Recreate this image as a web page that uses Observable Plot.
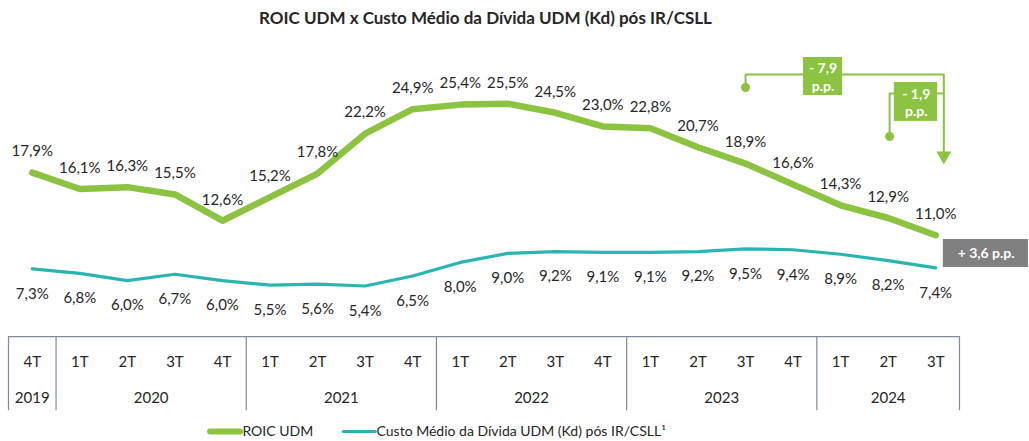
<!DOCTYPE html>
<html><head><meta charset="utf-8">
<script src="https://cdn.jsdelivr.net/npm/d3@7"></script>
<script src="https://cdn.jsdelivr.net/npm/@observablehq/plot@0.6"></script>
<style>body{margin:0;background:#fff}svg{font-family:Lato,"Open Sans",sans-serif}</style>
</head><body><div id="chart"></div>
<script>
const quarters = ["4T","1T","2T","3T","4T","1T","2T","3T","4T","1T","2T","3T","4T","1T","2T","3T","4T","1T","2T","3T"];
const yearLabels = ["2019","2020","2021","2022","2023","2024"];
const yearCenters = [0, 2.5, 6.5, 10.5, 14.5, 18];
const yearBounds = [-0.5, 0.5, 4.5, 8.5, 12.5, 16.5, 19.5];
const roic = [17.9,16.1,16.3,15.5,12.6,15.2,17.8,22.2,24.9,25.4,25.5,24.5,23.0,22.8,20.7,18.9,16.6,14.3,12.9,11.0];
const kd = [7.3,6.8,6.0,6.7,6.0,5.5,5.6,5.4,6.5,8.0,9.0,9.2,9.1,9.1,9.2,9.5,9.4,8.9,8.2,7.4];
const titleText = "ROIC UDM x Custo Médio da Dívida UDM (Kd) pós IR/CSLL";
const seriesNames = ["ROIC UDM", "Custo Médio da Dívida UDM (Kd) pós IR/CSLL¹"];
const deltaLabels = ["- 7,9\np.p.", "- 1,9\np.p.", "+ 3,6 p.p."];

const GREEN = "#8cc341", TEAL = "#2bb5b1", GRID = "#7d8a9a", TXT = "#262626";
const rows = quarters.map((q, i) => ({i, q, roic: roic[i], kd: kd[i]}));
const fmt = v => v.toFixed(1).replace(".", ",") + "%";

// table rows and extra text rows (in y data units)
const yTop = -0.17, yQ = -3.03, yYear = -7.0, yBot = -8.35, yLeg = -10.64, yTitle = 34.9;

const chart = Plot.plot({
  width: 1029, height: 441,
  marginLeft: 0, marginRight: 0, marginTop: 0, marginBottom: 0,
  x: {type: "linear", domain: [-0.5, 19.5], range: [8, 959], axis: null},
  y: {type: "linear", domain: [0, 30], range: [334.5, 62.4], axis: null},
  marks: [
    // title
    Plot.text([titleText], {x: 9.53, y: yTitle, text: d => d, fontSize: 17, fontWeight: "bold", fill: TXT}),
    // table
    Plot.ruleY([yTop], {x1: -0.5, x2: 19.5, stroke: GRID, strokeWidth: 1.2}),
    Plot.ruleX(yearBounds, {x: d => d, y1: yTop, y2: yBot, stroke: GRID, strokeWidth: 1.2}),
    Plot.text(rows, {x: "i", y: yQ, text: "q", fontSize: 15, fill: TXT}),
    Plot.text(yearLabels, {x: (d, j) => yearCenters[j], y: yYear, text: d => d, fontSize: 15, fill: TXT}),
    // lines
    Plot.line(rows, {x: "i", y: "kd", stroke: TEAL, strokeWidth: 3.2}),
    Plot.line(rows, {x: "i", y: "roic", stroke: GREEN, strokeWidth: 6.5}),
    Plot.text(rows, {x: "i", y: "roic", text: d => fmt(d.roic), dy: -21, fontSize: 15, fill: TXT}),
    Plot.text(rows, {x: "i", y: "kd", text: d => fmt(d.kd), dy: 25, fontSize: 15, fill: TXT}),
    // bracket -7,9
    Plot.line([{x: 15, y: 27.29}, {x: 15, y: 28.72}, {x: 19.17, y: 28.72}, {x: 19.17, y: 20.2}], {x: "x", y: "y", stroke: GREEN, strokeWidth: 2}),
    Plot.dot([{x: 15, y: 27.29}], {x: "x", y: "y", r: 4.5, fill: GREEN}),
    // bracket -1,9
    Plot.line([{x: 18.03, y: 21.89}, {x: 18.03, y: 26.63}, {x: 19.17, y: 26.63}], {x: "x", y: "y", stroke: GREEN, strokeWidth: 2}),
    Plot.dot([{x: 18.03, y: 21.89}], {x: "x", y: "y", r: 4.5, fill: GREEN}),
    Plot.dot([{x: 19.17, y: 19.75}], {x: "x", y: "y", symbol: "triangle", r: 5.5, rotate: 180, fill: GREEN}),
    // boxes
    Plot.rect([{x1: 16.22, x2: 17.04, y1: 26.4, y2: 30.6}], {x1: "x1", x2: "x2", y1: "y1", y2: "y2", fill: GREEN}),
    Plot.text([deltaLabels[0]], {x: 16.63, y: 28.5, text: d => d, fill: "white", fontWeight: "bold", fontSize: 14, lineHeight: 1.25}),
    Plot.rect([{x1: 18.13, x2: 19.04, y1: 23.55, y2: 27.84}], {x1: "x1", x2: "x2", y1: "y1", y2: "y2", fill: GREEN}),
    Plot.text([deltaLabels[1]], {x: 18.59, y: 25.69, text: d => d, fill: "white", fontWeight: "bold", fontSize: 14, lineHeight: 1.25}),
    Plot.rect([{x1: 19.16, x2: 20.95, y1: 7.44, y2: 10.53}], {x1: "x1", x2: "x2", y1: "y1", y2: "y2", fill: "#808080"}),
    Plot.text([deltaLabels[2]], {x: 20.06, y: 8.99, text: d => d, fill: "white", fontWeight: "bold", fontSize: 14}),
    // legend
    Plot.ruleY([yLeg], {x1: 3.75, x2: 4.38, stroke: GREEN, strokeWidth: 6, strokeLinecap: "round"}),
    Plot.text([seriesNames[0]], {x: 4.42, y: yLeg, text: d => d, textAnchor: "start", fontSize: 14, fill: TXT}),
    Plot.ruleY([yLeg], {x1: 6.55, x2: 7.22, stroke: TEAL, strokeWidth: 3.2, strokeLinecap: "round"}),
    Plot.text([seriesNames[1]], {x: 7.24, y: yLeg, text: d => d, textAnchor: "start", fontSize: 14, fill: TXT})
  ]
});
document.getElementById("chart").append(chart);
</script></body></html>
